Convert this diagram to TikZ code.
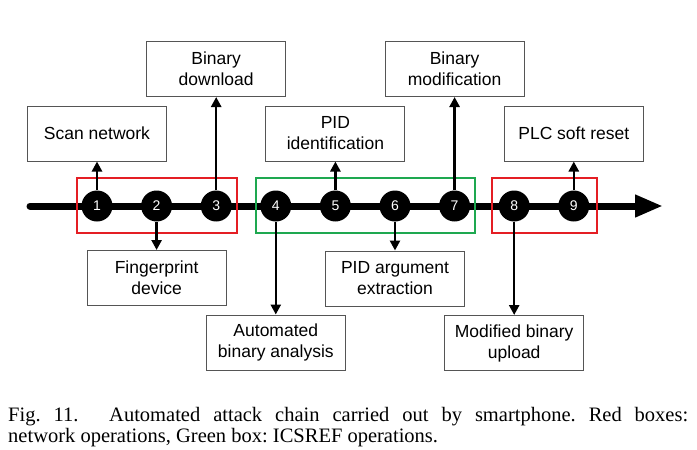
\documentclass[tikz,border=0pt]{standalone}
\usepackage{fontspec}
\setmainfont{Liberation Serif}
\setsansfont{Liberation Sans}
\usetikzlibrary{arrows.meta}
\definecolor{redbox}{RGB}{228,30,36}
\definecolor{greenbox}{RGB}{30,168,80}
\definecolor{boxline}{RGB}{85,85,85}
\frenchspacing
\begin{document}
\begin{tikzpicture}[x=1pt,y=-1pt,
  lbox/.style={draw=boxline, line width=1pt, minimum width=139pt, minimum height=55pt,
    inner sep=0pt, align=center, font=\sffamily\fontsize{17.5}{21}\selectfont},
  stepdot/.style={circle, fill=black, minimum size=31pt, inner sep=0pt,
    text=white, font=\sffamily\fontsize{14}{14}\selectfont},
  conn/.style={line width=2.5pt, -{Triangle[length=10pt,width=10pt]}},
  frame/.style={line width=2.5pt},
  timeline/.style={line width=7pt, line cap=round, -{Triangle[length=28pt,width=21pt]}}
]
\useasboundingbox (0,0) rectangle (697,450);
% timeline
\coordinate (tstart) at (30,206);
\coordinate (tend) at (663,206);
\draw[timeline] (tstart) -- (tend);
% frames
\draw[frame, draw=redbox] (77,178) rectangle (237,233);
\draw[frame, draw=greenbox] (256,178) rectangle (475,233);
\draw[frame, draw=redbox] (492,178) rectangle (597,233);
% steps
\node[stepdot] (c1) at (97,206) {1};
\node[stepdot] (c2) at (156.6,206) {2};
\node[stepdot] (c3) at (216.2,206) {3};
\node[stepdot] (c4) at (275.8,206) {4};
\node[stepdot] (c5) at (335.4,206) {5};
\node[stepdot] (c6) at (395,206) {6};
\node[stepdot] (c7) at (454.6,206) {7};
\node[stepdot] (c8) at (514.2,206) {8};
\node[stepdot] (c9) at (573.8,206) {9};
% boxes
\node[lbox] (scan) at (97,133.5) {Scan network};
\node[lbox] (bdown) at (216.2,69) {Binary\\download};
\node[lbox] (pidid) at (335.4,133.5) {PID\\identification};
\node[lbox] (bmod) at (454.6,69) {Binary\\modification};
\node[lbox] (plc) at (573.8,133.5) {PLC soft reset};
\node[lbox] (finger) at (156.6,278) {Fingerprint\\device};
\node[lbox] (pidarg) at (395,278.5) {PID argument\\extraction};
\node[lbox] (auto) at (275.8,342.5) {Automated\\binary analysis};
\node[lbox] (modup) at (514.2,343) {Modified binary\\upload};
% connectors
\draw[conn] (c1.north) -- (scan.south);
\draw[conn] (c3.north) -- (bdown.south);
\draw[conn] (c5.north) -- (pidid.south);
\draw[conn] (c7.north) -- (bmod.south);
\draw[conn] (c9.north) -- (plc.south);
\draw[conn] (c2.south) -- (finger.north);
\draw[conn] (c4.south) -- (auto.north);
\draw[conn] (c6.south) -- (pidarg.north);
\draw[conn] (c8.south) -- (modup.north);
% caption
\node[anchor=base west, text width=680pt, align=justify, inner sep=0pt,
  font=\fontsize{20.5}{21.5}\selectfont] (cap) at (8,421)
  {Fig.~11.\hskip 1.5em Automated attack chain carried out by smartphone. Red boxes:\linebreak
   network operations, Green box: ICSREF operations.};
\end{tikzpicture}
\end{document}
